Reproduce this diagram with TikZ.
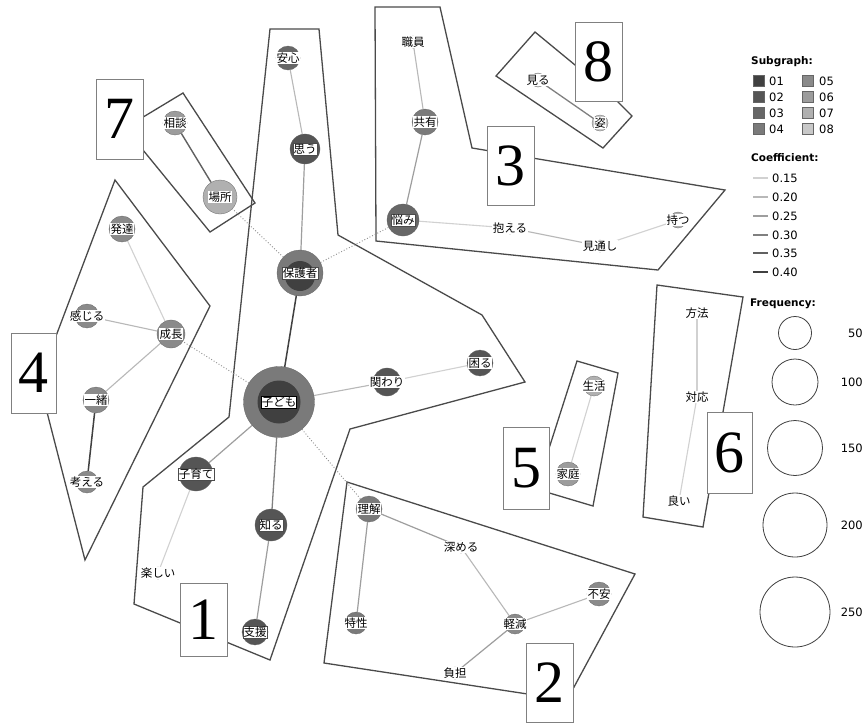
\documentclass[tikz,border=0pt]{standalone}
\usepackage{fontspec}
\setmainfont{Liberation Serif}
\newfontfamily\jpf{Noto Sans CJK JP}
\newfontfamily\lgf{DejaVu Sans}
\definecolor{g1}{HTML}{404040}
\definecolor{g2}{HTML}{555555}
\definecolor{g3}{HTML}{676767}
\definecolor{g4}{HTML}{7A7A7A}
\definecolor{g5}{HTML}{8A8A8A}
\definecolor{g6}{HTML}{9C9C9C}
\definecolor{g7}{HTML}{B0B0B0}
\definecolor{g8}{HTML}{C8C8C8}
\definecolor{polyc}{HTML}{4A4A4A}
\pgfdeclarelayer{bglayer}
\pgfdeclarelayer{polylayer}
\pgfdeclarelayer{edgelayer}
\pgfdeclarelayer{frontlayer}
\pgfsetlayers{bglayer,polylayer,edgelayer,main,frontlayer}
\tikzset{
  kwc/.style={circle, inner sep=0pt, draw=black!60, line width=0.3pt},
  kwl/.style={fill=white, inner xsep=0.6pt, inner ysep=0.4pt, text height=9.6pt, text depth=1.6pt, font=\jpf\fontsize{11.5}{12}\selectfont},
  kwlb/.style={kwl, draw=black!70, line width=0.4pt},
  hull/.style={draw=polyc, line width=1.3pt, line join=miter},
  numbox/.style={draw=black!50, fill=white, line width=0.7pt, minimum width=47pt, inner sep=0pt, font=\fontsize{60}{60}\selectfont},
  e15/.style={draw=black!18, line width=1.1pt},
  e20/.style={draw=black!28, line width=1.1pt},
  e25/.style={draw=black!38, line width=1.2pt},
  e30/.style={draw=black!50, line width=1.3pt},
  e35/.style={draw=black!62, line width=1.4pt},
  e40/.style={draw=black!75, line width=1.5pt},
  dotl/.style={draw=black!45, line width=0.9pt, dotted},
  lgt/.style={font=\lgf\fontsize{11.5}{13}\selectfont, inner sep=0pt},
  lgh/.style={font=\lgf\bfseries\fontsize{10.5}{12}\selectfont, inner sep=0pt},
  sq/.style={minimum size=11pt, inner sep=0pt, draw=black!60, line width=0.4pt},
  fc/.style={circle, draw=black!75, line width=0.8pt, inner sep=0pt}
}
\newcommand\kwnode[6]{%
  \node[kwc, fill=#5, minimum size=#4*2pt] (#1) at (#2,#3) {};
  \node[kwl] (#1-l) at (#1) {#6};}
\newcommand\kwnodeb[6]{%
  \node[kwc, fill=#5, minimum size=#4*2pt] (#1) at (#2,#3) {};
  \node[kwlb] (#1-l) at (#1) {#6};}
\begin{document}
\begin{tikzpicture}[x=1pt,y=-1pt]
\useasboundingbox (0,0) rectangle (867,724);
\begin{pgfonlayer}{bglayer}
\fill[white] (0,0) rectangle (867,724);
\end{pgfonlayer}

% ---------- nodes ----------
% cluster 1
\kwnode{anshin}{288}{58}{12}{g3}{安心}
\kwnodeb{omou}{305}{149}{15}{g2}{思う}
\node[kwc, fill=g4, minimum size=46pt] (hogo) at (300,273) {};
\node[kwc, fill=g1, draw=none, minimum size=30pt] (hogoin) at (300,276) {};
\node[kwlb] (hogo-l) at (hogo) {保護者};
\node[kwc, fill=g4, minimum size=71pt] (kodomo) at (279,402) {};
\node[kwc, fill=g1, draw=none, minimum size=43pt] (kodomoin) at (279,402) {};
\node[kwlb, line width=0.8pt, draw=black] (kodomo-l) at (kodomo) {子ども};
\kwnode{kakawari}{387}{382}{14}{g2}{関わり}
\kwnode{komaru}{480}{363}{13}{g2}{困る}
\kwnodeb{kosodate}{196}{474}{17}{g2}{子育て}
\kwnode{tanoshii}{158}{573}{6}{g7}{楽しい}
\kwnodeb{shiru}{271}{525}{16}{g2}{知る}
\kwnodeb{shien}{255}{632}{13}{g2}{支援}
% cluster 2
\kwnode{rikai}{369}{509}{13}{g4}{理解}
\kwnode{fukameru}{461}{547}{6}{g8}{深める}
\kwnode{tokusei}{356}{623}{11}{g4}{特性}
\kwnode{keigen}{515}{624}{10}{g5}{軽減}
\kwnode{fuan}{599}{594}{12}{g5}{不安}
\kwnode{futan}{455}{673}{6}{g8}{負担}
% cluster 3
\kwnode{shokuin}{413}{42}{6}{g8}{職員}
\kwnode{kyouyu}{425}{122}{13}{g4}{共有}
\kwnodeb{nayami}{403}{220}{16}{g3}{悩み}
\kwnode{kakaeru}{510}{228}{6}{g8}{抱える}
\kwnode{mitooshi}{600}{246}{6}{g8}{見通し}
\kwnode{motsu}{678}{220}{8}{g7}{持つ}
% cluster 4
\kwnode{hattatsu}{122}{229}{13}{g5}{発達}
\kwnode{kanjiru}{87}{316}{12}{g5}{感じる}
\kwnode{seichou}{171}{334}{14}{g5}{成長}
\kwnode{issho}{96}{400}{13}{g5}{一緒}
\kwnode{kangaeru}{87}{482}{11}{g5}{考える}
% cluster 5
\kwnode{seikatsu}{594}{386}{10}{g7}{生活}
\kwnode{katei}{568}{474}{12}{g6}{家庭}
% cluster 6
\kwnode{houhou}{697}{313}{5}{g8}{方法}
\kwnode{taiou}{697}{397}{5}{g8}{対応}
\kwnode{yoi}{679}{501}{5}{g8}{良い}
% cluster 7
\kwnode{soudan}{175}{123}{12}{g6}{相談}
\kwnode{basho}{220}{197}{17}{g7}{場所}
% cluster 8
\kwnode{miru}{538}{80}{7}{g8}{見る}
\kwnode{sugata}{600}{123}{8}{g8}{姿}

% ---------- hulls ----------
\begin{pgfonlayer}{polylayer}
\draw[hull] (270,29) -- (319,29) -- (338,235) -- (482,315) -- (525,382) -- (350,429) -- (270,660) -- (134,604) -- (143,487) -- (229,417) -- cycle;
\draw[hull] (347,482) -- (635,574) -- (567,700) -- (324,663) -- cycle;
\draw[hull] (375,7) -- (440,7) -- (472,148) -- (725,190) -- (658,270) -- (376,241) -- cycle;
\draw[hull] (115,180) -- (210,306) -- (85,560) -- (39,381) -- cycle;
\draw[hull] (577,361) -- (618,373) -- (593,506) -- (536,489) -- cycle;
\draw[hull] (657,285) -- (743,297) -- (703,527) -- (643,517) -- cycle;
\draw[hull] (183,93) -- (255,203) -- (210,232) -- (125,128) -- cycle;
\draw[hull] (535,32) -- (609,93) -- (632,116) -- (603,148) -- (496,76) -- cycle;
\end{pgfonlayer}

% ---------- edges ----------
\begin{pgfonlayer}{edgelayer}
\draw[e20] (anshin) -- (omou);
\draw[e25] (omou) -- (hogo);
\draw[e40] (hogo.center) -- (kodomo.center);
\draw[e20] (kodomo) -- (kakawari);
\draw[e15] (kakawari) -- (komaru);
\draw[e25] (kodomo) -- (kosodate);
\draw[e15] (kosodate) -- (tanoshii);
\draw[e30] (kodomo) -- (shiru);
\draw[e25] (shiru) -- (shien);
\draw[e25] (rikai) -- (fukameru);
\draw[e25] (rikai) -- (tokusei);
\draw[e20] (fukameru) -- (keigen);
\draw[e20] (keigen) -- (fuan);
\draw[e25] (keigen) -- (futan);
\draw[e20] (shokuin) -- (kyouyu);
\draw[e25] (kyouyu) -- (nayami);
\draw[e15] (nayami) -- (kakaeru);
\draw[e20] (kakaeru) -- (mitooshi);
\draw[e15] (mitooshi) -- (motsu);
\draw[e30] (miru) -- (sugata);
\draw[e15] (hattatsu) -- (seichou);
\draw[e20] (kanjiru) -- (seichou);
\draw[e20] (seichou) -- (issho);
\draw[e40] (issho) -- (kangaeru);
\draw[e35] (soudan) -- (basho);
\draw[e15] (seikatsu) -- (katei);
\draw[e15] (houhou) -- (taiou);
\draw[e15] (taiou) -- (yoi);
\draw[dotl] (kodomo) -- (seichou);
\draw[dotl] (kodomo) -- (rikai);
\draw[dotl] (hogo) -- (basho);
\draw[dotl] (hogo) -- (nayami);
\end{pgfonlayer}

% ---------- number boxes ----------
\begin{pgfonlayer}{frontlayer}
\node[numbox, minimum height=73pt] (b1) at (203.5,619.5) {1};
\node[numbox, minimum height=79pt] (b2) at (549.5,682.5) {2};
\node[numbox, minimum height=79pt] (b3) at (510.5,165.5) {3};
\node[numbox, minimum height=80pt, minimum width=45pt] (b4) at (33.5,373) {4};
\node[numbox, minimum height=82pt, minimum width=46pt] (b5) at (526,468) {5};
\node[numbox, minimum height=81pt, minimum width=45pt] (b6) at (729.5,452.5) {6};
\node[numbox, minimum height=80pt] (b7) at (119.5,119) {7};
\node[numbox, minimum height=79pt] (b8) at (598.5,61.5) {8};
\end{pgfonlayer}

% ---------- legend ----------
\node[lgh, anchor=west] (lsub) at (751,62) {Subgraph:};
\node[sq, fill=g1] (s1) at (758.5,81) {};
\node[sq, fill=g2] (s2) at (758.5,97) {};
\node[sq, fill=g3] (s3) at (758.5,113) {};
\node[sq, fill=g4] (s4) at (758.5,129) {};
\node[sq, fill=g5] (s5) at (808,81) {};
\node[sq, fill=g6] (s6) at (808,97) {};
\node[sq, fill=g7] (s7) at (808,113) {};
\node[sq, fill=g8] (s8) at (808,129) {};
\node[lgt, anchor=west] (t1) at (769,81) {01};
\node[lgt, anchor=west] (t2) at (769,97) {02};
\node[lgt, anchor=west] (t3) at (769,113) {03};
\node[lgt, anchor=west] (t4) at (769,129) {04};
\node[lgt, anchor=west] (t5) at (819,81) {05};
\node[lgt, anchor=west] (t6) at (819,97) {06};
\node[lgt, anchor=west] (t7) at (819,113) {07};
\node[lgt, anchor=west] (t8) at (819,129) {08};

\node[lgh, anchor=west] (lcoef) at (751,158) {Coefficient:};
\coordinate (c1a) at (753,178); \coordinate (c1b) at (768,178);
\coordinate (c2a) at (753,197); \coordinate (c2b) at (768,197);
\coordinate (c3a) at (753,216); \coordinate (c3b) at (768,216);
\coordinate (c4a) at (753,235); \coordinate (c4b) at (768,235);
\coordinate (c5a) at (753,253); \coordinate (c5b) at (768,253);
\coordinate (c6a) at (753,272); \coordinate (c6b) at (768,272);
\draw[e15] (c1a) -- (c1b);
\draw[e20] (c2a) -- (c2b);
\draw[e25] (c3a) -- (c3b);
\draw[e30] (c4a) -- (c4b);
\draw[e35] (c5a) -- (c5b);
\draw[e40] (c6a) -- (c6b);
\node[lgt, anchor=west] (k1) at (772,178) {0.15};
\node[lgt, anchor=west] (k2) at (772,197) {0.20};
\node[lgt, anchor=west] (k3) at (772,216) {0.25};
\node[lgt, anchor=west] (k4) at (772,235) {0.30};
\node[lgt, anchor=west] (k5) at (772,253) {0.35};
\node[lgt, anchor=west] (k6) at (772,272) {0.40};

\node[lgh, anchor=west] (lfreq) at (750,304) {Frequency:};
\node[fc, minimum size=33pt] (f1) at (795,333) {};
\node[fc, minimum size=46pt] (f2) at (795,382) {};
\node[fc, minimum size=55pt] (f3) at (795,448) {};
\node[fc, minimum size=64pt] (f4) at (795,525) {};
\node[fc, minimum size=70pt] (f5) at (795,612) {};
\node[lgt, anchor=east] (n1) at (863,333) {50};
\node[lgt, anchor=east] (n2) at (863,382) {100};
\node[lgt, anchor=east] (n3) at (863,448) {150};
\node[lgt, anchor=east] (n4) at (863,525) {200};
\node[lgt, anchor=east] (n5) at (863,612) {250};
\end{tikzpicture}
\end{document}
